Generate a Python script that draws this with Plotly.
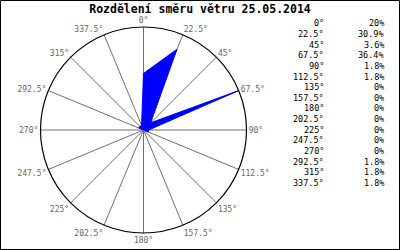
import plotly.graph_objects as go

title = "Rozdělení směru větru 25.05.2014"
directions = [0, 22.5, 45, 67.5, 90, 112.5, 135, 157.5, 180, 202.5, 225, 247.5, 270, 292.5, 315, 337.5]
dir_labels = ["0°", "22.5°", "45°", "67.5°", "90°", "112.5°", "135°", "157.5°", "180°",
              "202.5°", "225°", "247.5°", "270°", "292.5°", "315°", "337.5°"]
percent = [20, 30.9, 3.6, 36.4, 1.8, 1.8, 0, 0, 0, 0, 0, 0, 0, 1.8, 1.8, 1.8]
pct_labels = ["20%", "30.9%", "3.6%", "36.4%", "1.8%", "1.8%", "0%", "0%", "0%", "0%",
              "0%", "0%", "0%", "1.8%", "1.8%", "1.8%"]

W, H = 400, 250
mono = "DejaVu Sans Mono"

fig = go.Figure()
fig.add_trace(go.Scatterpolar(
    r=percent + [percent[0]],
    theta=directions + [directions[0]],
    mode="lines",
    fill="toself",
    fillcolor="#0000ff",
    line=dict(color="#0000ff", width=1),
    hoverinfo="skip",
    showlegend=False,
))

cx, cy, rad = 143.5, 130, 103
fig.update_layout(
    width=W, height=H,
    margin=dict(l=0, r=0, t=0, b=0),
    paper_bgcolor="white",
    plot_bgcolor="white",
    showlegend=False,
    title=dict(text="<b>" + title + "</b>", x=0.5, xanchor="center",
               y=1 - 9 / H, yanchor="middle",
               font=dict(family=mono, size=11.5, color="black")),
    polar=dict(
        domain=dict(x=[(cx - rad) / W, (cx + rad) / W],
                    y=[(H - cy - rad) / H, (H - cy + rad) / H]),
        bgcolor="white",
        radialaxis=dict(visible=False, range=[0, max(percent)], showgrid=False),
        angularaxis=dict(
            rotation=90, direction="clockwise",
            tickmode="array", tickvals=directions, ticktext=dir_labels,
            showgrid=True, gridcolor="#707070", gridwidth=1,
            showline=True, linecolor="black", linewidth=1.2,
            ticks="", tickfont=dict(family=mono, size=8, color="#666666"),
        ),
    ),
)

annotations = []
y0, dy = 23.3, 10.65
for i, (d, p) in enumerate(zip(dir_labels, pct_labels)):
    yy = 1 - (y0 + i * dy) / H
    annotations.append(dict(text=d, x=326 / W, y=yy, xref="paper", yref="paper",
                            xanchor="right", yanchor="middle", showarrow=False,
                            font=dict(family=mono, size=8.5, color="black")))
    annotations.append(dict(text=p, x=386 / W, y=yy, xref="paper", yref="paper",
                            xanchor="right", yanchor="middle", showarrow=False,
                            font=dict(family=mono, size=8.5, color="black")))
fig.update_layout(annotations=annotations)

fig.add_shape(type="rect", xref="paper", yref="paper",
              x0=0.5 / W, y0=0.5 / H, x1=1 - 0.5 / W, y1=1 - 0.5 / H,
              line=dict(color="black", width=1), fillcolor="rgba(0,0,0,0)")

fig.write_html("out.html")
